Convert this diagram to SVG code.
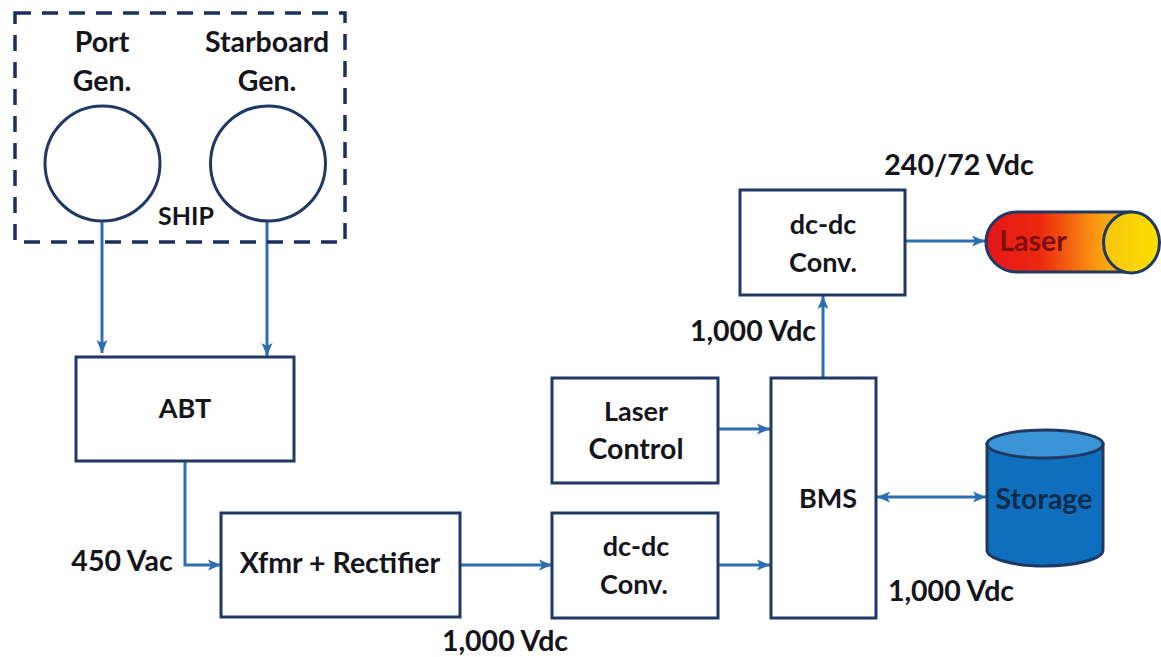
<svg xmlns="http://www.w3.org/2000/svg" width="1161" height="657" viewBox="0 0 1161 657">
<style>
text{font-family:Lato,"Open Sans","Liberation Sans",sans-serif;font-weight:700;font-size:27px;fill:#14141a;text-anchor:middle}
.w{font-size:28.500px}
.b{fill:#fff;stroke:#1f3864;stroke-width:3}
.c{fill:none;stroke:#2e6db0;stroke-width:3}
</style>
<defs>
<marker id="a" markerUnits="userSpaceOnUse" markerWidth="14" markerHeight="14" refX="13" refY="7" orient="auto-start-reverse"><path d="M0 1.500L13 7L0 12.500L3 7Z" fill="#2e6db0"/></marker>
<linearGradient id="lg" gradientUnits="userSpaceOnUse" x1="985" y1="0" x2="1125" y2="0"><stop offset="0" stop-color="#e8141a"/><stop offset=".4" stop-color="#ec2a0e"/><stop offset=".8" stop-color="#f99a12"/><stop offset="1" stop-color="#fbbf10"/></linearGradient>
<linearGradient id="lc" x1="0" y1="0" x2="1" y2="0"><stop offset="0" stop-color="#f8c40e"/><stop offset="1" stop-color="#fbe000"/></linearGradient>
</defs>
<rect width="1161" height="657" fill="#fff"/>
<g id="connectors">
<path class="c" d="M102 221V353" marker-end="url(#a)"/>
<path class="c" d="M267 221V356" marker-end="url(#a)"/>
<path class="c" d="M185 461V565H221" marker-end="url(#a)"/>
<path class="c" d="M460 565H552" marker-end="url(#a)"/>
<path class="c" d="M718 565H770" marker-end="url(#a)"/>
<path class="c" d="M718 429H770" marker-end="url(#a)"/>
<path class="c" d="M823 378V296" marker-end="url(#a)"/>
<path class="c" d="M905 241H985" marker-end="url(#a)"/>
<path class="c" d="M877 497H986" marker-start="url(#a)" marker-end="url(#a)"/>
</g>
<g id="ship"><rect x="15" y="13" width="330" height="229" fill="none" stroke="#1b2f5e" stroke-width="3.5" stroke-dasharray="16 11"/><text x="186" y="225" style="font-size:25px">SHIP</text></g>
<g id="port"><circle cx="102.500" cy="163.500" r="57.500" class="b"/><text class="w" x="102" y="52">Port</text><text class="w" x="102" y="91">Gen.</text></g>
<g id="starboard"><circle cx="268" cy="163.500" r="57.500" class="b"/><text class="w" x="267" y="52">Starboard</text><text class="w" x="267" y="91">Gen.</text></g>
<g id="abt"><rect x="76" y="357" width="218" height="104" class="b"/><text x="185" y="418">ABT</text></g>
<g id="xfmr"><rect x="221" y="513" width="239" height="104" class="b"/><text class="w" x="340" y="573">Xfmr + Rectifier</text></g>
<g id="conv1"><rect x="552" y="513" width="166" height="105" class="b"/><text x="636" y="556">dc-dc</text><text x="634" y="594">Conv.</text></g>
<g id="control"><rect x="552" y="378" width="166" height="105" class="b"/><text x="636" y="421">Laser</text><text class="w" x="636" y="459">Control</text></g>
<g id="bms"><rect x="771" y="378" width="105" height="240" class="b"/><text x="828" y="508">BMS</text></g>
<g id="conv2"><rect x="740" y="190" width="165" height="105" class="b"/><text x="823" y="234">dc-dc</text><text x="823" y="272">Conv.</text></g>
<g id="laser"><path d="M1017 212H1131V272H1017A31 30 0 0 1 1017 212Z" fill="url(#lg)" stroke="#1f3864" stroke-width="3"/><ellipse cx="1131.500" cy="242.500" rx="28" ry="30.500" fill="url(#lc)" stroke="#1f3864" stroke-width="3"/><text class="w" x="1033" y="251" style="fill:#7a1010">Laser</text></g>
<g id="storage"><path d="M987 444V550A58 16 0 0 0 1103 550V444Z" fill="#0f6fbe" stroke="#1f3864" stroke-width="3"/><ellipse cx="1045" cy="444" rx="58" ry="14" fill="#3a94d6" stroke="#1f3864" stroke-width="3"/><text class="w" x="1044" y="509" style="fill:#0e2b4a">Storage</text></g>
<g id="labels">
<text class="w" x="959" y="175">240/72 Vdc</text>
<text class="w" x="753" y="341">1,000 Vdc</text>
<text class="w" x="951" y="601">1,000 Vdc</text>
<text class="w" x="505" y="651">1,000 Vdc</text>
<text class="w" x="122" y="571">450 Vac</text>
</g>
</svg>
